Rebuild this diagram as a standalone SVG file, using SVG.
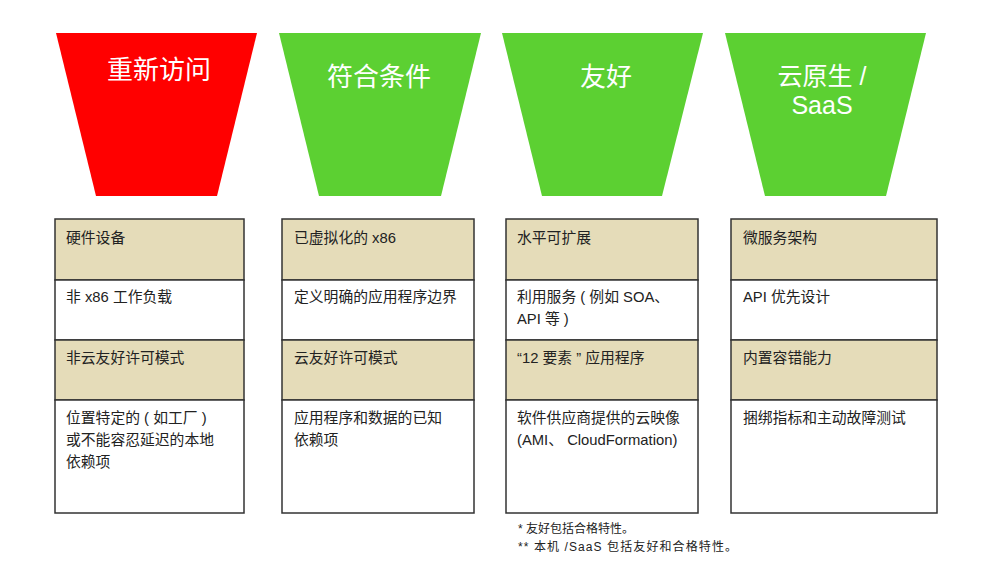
<svg xmlns="http://www.w3.org/2000/svg" width="1000" height="576" viewBox="0 0 1000 576">
<style>
.title{font-family:"Noto Sans CJK SC","Liberation Sans",sans-serif;font-size:26px;fill:#fff;text-anchor:middle}
.title2{font-family:"Liberation Sans","Noto Sans CJK SC",sans-serif;font-size:25px;fill:#fff;text-anchor:middle}
.t{font-family:"Liberation Sans","Noto Sans CJK SC",sans-serif;font-size:14.8px;fill:#222}
.fn{font-family:"Liberation Sans","Noto Sans CJK SC",sans-serif;font-size:12px;fill:#222}
.tan{fill:#e5dcb9;stroke:#333;stroke-width:1.5}
.wh{fill:#fff;stroke:#333;stroke-width:1.5}
</style>
<rect width="1000" height="576" fill="#fff"/>
<g id="funnel-revisit">
<polygon points="56,33 257,33 217,196 96,196" fill="#ff0000"/>
<text class="title" x="159" y="79">重新访问</text>
</g>
<g id="funnel-eligible">
<polygon points="279,33 481,33 441,196 319,196" fill="#5cd032"/>
<text class="title" x="379" y="86">符合条件</text>
</g>
<g id="funnel-friendly">
<polygon points="502,33 703,33 662,196 542,196" fill="#5cd032"/>
<text class="title" x="606" y="86">友好</text>
</g>
<g id="funnel-native">
<polygon points="725,33 926,33 886,196 765,196" fill="#5cd032"/>
<text class="title2" x="822" y="85">云原生 /</text>
<text class="title2" x="822" y="114">SaaS</text>
</g>
<g id="col1">
<rect class="tan" x="55" y="219" width="189" height="61"/>
<rect class="wh" x="55" y="280" width="189" height="60"/>
<rect class="tan" x="55" y="340" width="189" height="60"/>
<rect class="wh" x="55" y="400" width="189" height="113"/>
<text class="t" x="66" y="243">硬件设备</text>
<text class="t" x="66" y="302">非 x86 工作负载</text>
<text class="t" x="66" y="363">非云友好许可模式</text>
<text class="t" x="66" y="423">位置特定的 ( 如工厂 )</text>
<text class="t" x="66" y="445">或不能容忍延迟的本地</text>
<text class="t" x="66" y="467">依赖项</text>
</g>
<g id="col2">
<rect class="tan" x="282" y="219" width="192" height="61"/>
<rect class="wh" x="282" y="280" width="192" height="60"/>
<rect class="tan" x="282" y="340" width="192" height="60"/>
<rect class="wh" x="282" y="400" width="192" height="113"/>
<text class="t" x="294" y="243">已虚拟化的 x86</text>
<text class="t" x="294" y="302">定义明确的应用程序边界</text>
<text class="t" x="294" y="363">云友好许可模式</text>
<text class="t" x="294" y="423">应用程序和数据的已知</text>
<text class="t" x="294" y="445">依赖项</text>
</g>
<g id="col3">
<rect class="tan" x="506" y="219" width="192" height="61"/>
<rect class="wh" x="506" y="280" width="192" height="60"/>
<rect class="tan" x="506" y="340" width="192" height="60"/>
<rect class="wh" x="506" y="400" width="192" height="113"/>
<text class="t" x="517" y="243">水平可扩展</text>
<text class="t" x="517" y="302">利用服务 ( 例如 SOA、</text>
<text class="t" x="517" y="324">API 等 )</text>
<text class="t" x="517" y="363">“12 要素 ” 应用程序</text>
<text class="t" x="517" y="423">软件供应商提供的云映像</text>
<text class="t" x="517" y="445">(AMI、 CloudFormation)</text>
</g>
<g id="col4">
<rect class="tan" x="731" y="219" width="206" height="61"/>
<rect class="wh" x="731" y="280" width="206" height="60"/>
<rect class="tan" x="731" y="340" width="206" height="60"/>
<rect class="wh" x="731" y="400" width="206" height="113"/>
<text class="t" x="743" y="243">微服务架构</text>
<text class="t" x="743" y="302">API 优先设计</text>
<text class="t" x="743" y="363">内置容错能力</text>
<text class="t" x="743" y="423">捆绑指标和主动故障测试</text>
</g>
<g id="footnotes">
<text class="fn" x="518" y="533">* 友好包括合格特性。</text>
<text class="fn" x="518" y="551" textLength="219" lengthAdjust="spacing">** 本机 /SaaS 包括友好和合格特性。</text>
</g>
<g id="connectors"/>
</svg>
